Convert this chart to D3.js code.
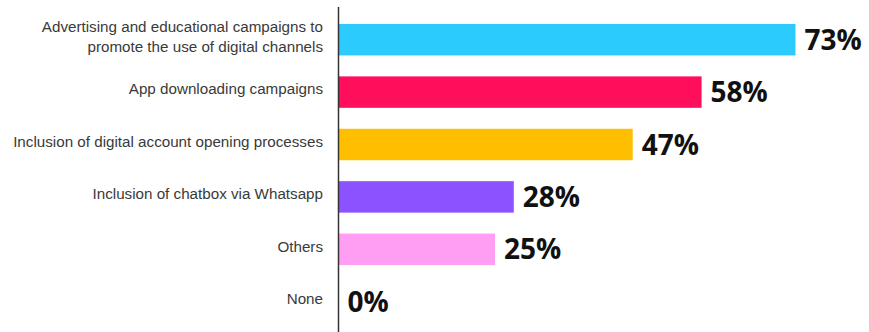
<!DOCTYPE html>
<html>
<head>
<meta charset="utf-8">
<script src="https://cdn.jsdelivr.net/npm/d3@7"></script>
<style>
  html, body { margin: 0; padding: 0; background: #fff; }
  svg { display: block; }
</style>
</head>
<body>
<svg id="chart" width="869" height="332"></svg>
<script>
// Digital channel initiatives and share of respondents
const categories = [
  ["Advertising and educational campaigns to", "promote the use of digital channels"],
  ["App downloading campaigns"],
  ["Inclusion of digital account opening processes"],
  ["Inclusion of chatbox via Whatsapp"],
  ["Others"],
  ["None"]
];
const values = [73, 58, 47, 28, 25, 0];
const colors = ["#2bcbfe", "#ff0e5b", "#ffbf00", "#8c52ff", "#ff9ef2", "#2bcbfe"];

const svg = d3.select("#chart");
const axisX = 338.5;

const y = d3.scaleBand()
  .domain(d3.range(values.length))
  .range([13.5, 327.9])
  .paddingInner(0.4)
  .paddingOuter(0.2);

const x = d3.scaleLinear()
  .domain([0, 100])
  .range([axisX, axisX + 626]);

// bars
svg.append("g")
  .selectAll("rect")
  .data(values)
  .join("rect")
  .attr("x", axisX)
  .attr("y", (d, i) => y(i))
  .attr("width", d => x(d) - x(0))
  .attr("height", y.bandwidth())
  .attr("fill", (d, i) => colors[i]);

// value labels
svg.append("g")
  .selectAll("text")
  .data(values)
  .join("text")
  .attr("x", d => x(d) + 9)
  .attr("y", (d, i) => y(i) + y.bandwidth() / 2)
  .attr("dy", "0.36em")
  .attr("font-family", "'Open Sans', sans-serif")
  .attr("font-weight", 700)
  .attr("font-size", 28)
  .attr("fill", "#111")
  .text(d => d + "%");

// category labels
const lab = svg.append("g")
  .selectAll("text")
  .data(categories)
  .join("text")
  .attr("text-anchor", "end")
  .attr("font-family", "'Liberation Sans', Arial, sans-serif")
  .attr("font-size", 15.2)
  .attr("fill", "#3a3a3a");

lab.each(function(lines, i) {
  const cy = y(i) + y.bandwidth() / 2 - 3;
  const lh = 20;
  const top = cy - (lines.length - 1) * lh / 2;
  d3.select(this).selectAll("tspan")
    .data(lines)
    .join("tspan")
    .attr("x", 323)
    .attr("y", (d, j) => top + j * lh)
    .attr("dy", "0.35em")
    .text(d => d);
});

// vertical axis line
svg.append("line")
  .attr("x1", axisX).attr("x2", axisX)
  .attr("y1", 7).attr("y2", 332)
  .attr("stroke", "#333")
  .attr("stroke-width", 1.5);
</script>
</body>
</html>
